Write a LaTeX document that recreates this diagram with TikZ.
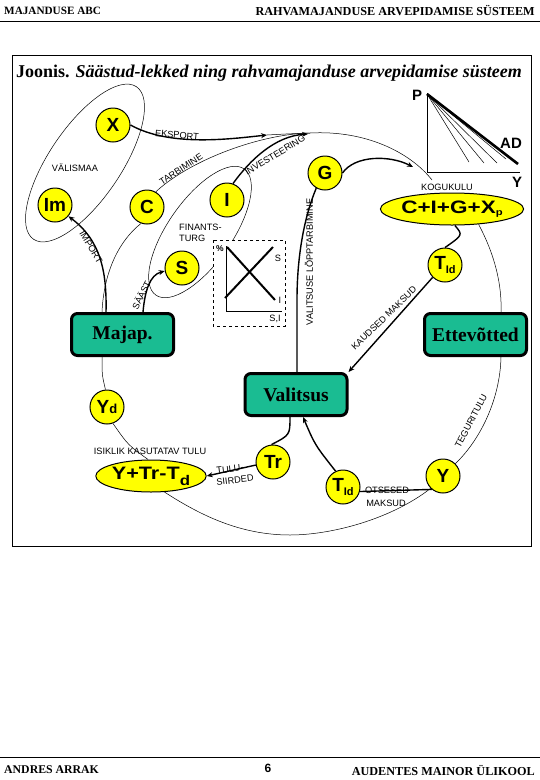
\documentclass[tikz,border=0pt]{standalone}
\usepackage{fontspec}
\setmainfont{Liberation Serif}
\setsansfont{Liberation Sans}
\usetikzlibrary{arrows.meta,shapes.geometric}
\definecolor{ylw}{RGB}{255,255,0}
\definecolor{grn}{RGB}{26,188,146}
\begin{document}
\begin{tikzpicture}[x=1pt,y=-1pt]
\tikzset{
  ycirc/.style={circle,draw,line width=1pt,fill=ylw,minimum size=34pt,inner sep=0pt,font=\sffamily\bfseries\fontsize{19}{19}\selectfont},
  yell/.style={ellipse,draw,line width=1pt,fill=ylw,inner sep=0pt,font=\sffamily\bfseries\fontsize{18}{18}\selectfont},
  gbox/.style={draw,line width=3pt,rounded corners=6pt,fill=grn,minimum width=102pt,minimum height=42pt,inner sep=0pt,font=\rmfamily\bfseries\fontsize{19.5}{19.5}\selectfont},
  lbl/.style={inner sep=0pt,font=\sffamily\fontsize{9.2}{9.2}\selectfont},
  thk/.style={line width=1.4pt},
  thn/.style={line width=0.5pt},
  arr/.style={-{Stealth[length=6pt,width=5pt]}},
  hdr/.style={inner sep=0pt,font=\rmfamily\bfseries\fontsize{11.2}{11.2}\selectfont},
  bigl/.style={inner sep=0pt,font=\sffamily\bfseries\fontsize{15}{15}\selectfont}
}
\useasboundingbox (0,0) rectangle (540,780);
\fill[white] (0,0) rectangle (540,780);
% header / footer
\node[hdr,anchor=west] (h1) at (4,11) {MAJANDUSE ABC};
\node[hdr,anchor=east,font=\rmfamily\bfseries\fontsize{12.2}{12.2}\selectfont] (h2) at (535,11) {RAHVAMAJANDUSE ARVEPIDAMISE SÜSTEEM};
\draw[line width=1pt] (0,21) -- (540,21);
\draw[line width=1pt] (0,757) -- (540,757);
\node[hdr,anchor=west,font=\rmfamily\bfseries\fontsize{11.8}{11.8}\selectfont] (f1) at (4,770) {ANDRES ARRAK};
\node[inner sep=0pt,font=\sffamily\bfseries\fontsize{12}{12}\selectfont] (f2) at (268,768) {6};
\node[hdr,anchor=east,font=\rmfamily\bfseries\fontsize{12.2}{12.2}\selectfont] (f3) at (535,770) {AUDENTES MAINOR ÜLIKOOL};
% frame
\draw[line width=1pt] (12,55) rectangle (531,546);
\node[anchor=west,inner sep=0pt,font=\rmfamily\bfseries\fontsize{18}{18}\selectfont] (title) at (16,73) {Joonis. \itshape Säästud-lekked ning rahvamajanduse arvepidamise süsteem};
% P-Y graph
\draw[thn,line width=0.7pt] (427,93) -- (427,172) -- (520,172);
\draw[line width=2.6pt] (427,94) -- (518,164);
\foreach \e in {(469,162),(484,163),(497,163),(506,159)} \draw[thn] (427,94) -- \e;
\node[bigl] (P) at (417,95) {P};
\node[bigl] (AD) at (511,143) {AD};
\node[bigl] (Yax) at (517,182) {Y};
% big ellipses
\draw[thn] [rotate around={56:(85,163)}] (85,163) ellipse [x radius=92, y radius=36];
\draw[thn] [rotate around={55:(200,232)}] (200,232) ellipse [x radius=77, y radius=32];
% finance box
\draw[thn,dashed,fill=white] (213,240) rectangle (285,326);
\draw[thn] (226,246) -- (226,311) -- (282,311);
\draw[line width=2pt] (227,247) -- (275,300);
\draw[line width=2pt] (225,298) -- (273,247);
\node[inner sep=0pt,font=\sffamily\bfseries\fontsize{8.5}{8.5}\selectfont] (pct) at (220,249) {\%};
\node[lbl] (lS) at (278,258) {S};
\node[lbl] (lI) at (280,300) {I};
\node[lbl] (lSI) at (275,319) {S,I};
% nodes
\node[ycirc] (X) at (113,125) {X};
\node[ycirc] (Im) at (55,205) {Im};
\node[ycirc] (C) at (147,207) {C};
\node[ycirc] (I) at (227,200) {I};
\node[ycirc] (G) at (325,173) {G};
\node[ycirc] (S) at (182,268) {S};
\node[ycirc] (T1) at (445,265) {T\raisebox{-4pt}{\fontsize{11}{11}\selectfont Id}};
\node[ycirc] (Yd) at (107,407) {Y{\fontsize{13}{13}\selectfont d}};
\node[ycirc] (Tr) at (273,462) {Tr};
\node[ycirc] (T2) at (343,487) {T\raisebox{-4pt}{\fontsize{11}{11}\selectfont Id}};
\node[ycirc] (Yb) at (443,476) {Y};
\node[yell,minimum width=122pt,minimum height=32pt] (cigx) at (452,209) {\scalebox{1.25}[1]{C+I+G+X\raisebox{-2pt}{\fontsize{9}{9}\selectfont p}}};
\node[yell,minimum width=98pt,minimum height=32pt] (ytr) at (151,476) {\scalebox{1.2}[1]{Y+Tr-T\raisebox{-6pt}{\fontsize{14}{14}\selectfont d}}};
\node[gbox] (maj) at (122.5,334.5) {Majap.};
\node[gbox] (ette) at (475.5,334.5) {Ettevõtted};
\node[gbox] (val) at (296,394.5) {Valitsus};
% coordinates
\coordinate (hub) at (310,133);
\coordinate (ekend) at (267,135);
\coordinate (arcend) at (432,180);
\coordinate (botm) at (290,535);
% connectors
\draw[thk,arr] (X.east) .. controls (170,147) and (230,139) .. (ekend);
\draw[thn] (ekend) .. controls (285,134) .. (hub) .. controls (365,130) and (410,152) .. (arcend);
\draw[thn] (C.60) .. controls (190,160) and (260,134) .. (hub);
\draw[thk,arr] (I.70) .. controls (250,160) and (275,136) .. (308,134);
\draw[thk,arr] (G.east) .. controls (355,155) and (390,155) .. (413,167);
\draw[thk] (G.240) .. controls (303,220) and (297,260) .. (297,300) -- (val.north -| 297,0);
\draw[thk,arr] (maj.north -| 106,0) .. controls (107,270) and (100,240) .. (Im.-40);
\draw[thn] (maj.north -| 102,0) .. controls (104,270) and (120,240) .. (C.-110);
\draw[thk,arr] (maj.north -| 143,0) .. controls (145,290) and (150,275) .. (S.190);
\draw[thk] (cigx.-80) .. controls (463,235) .. (T1.north);
\draw[thk,arr] (T1.225) -- (val.north east);
\draw[thk] (val.south -| 290,0) .. controls (290,435) .. (Tr.95);
\draw[thk,arr] (Tr.190) -- (ytr.east);
\draw[thk,arr] (T2.115) .. controls (315,445) .. (val.south -| 303,0);
\draw[thk] (Yb.230) -- (T2.-15);
\draw[thn] (cigx.-30) .. controls (495,255) and (502,285) .. (ette.north -| 501,0);
\draw[thn] (ette.south -| 501,0) .. controls (500,400) and (480,440) .. (Yb.45);
\draw[thn] (Yb.225) .. controls (390,520) and (330,535) .. (botm) .. controls (240,535) and (200,515) .. (ytr.-50);
\draw[thn] (ytr.100) .. controls (128,445) .. (Yd.-70);
\draw[thn] (Yd.95) .. controls (102,375) .. (maj.south -| 102,0);
% labels
\node[lbl,rotate=-5] (lek) at (177,135) {EKSPORT};
\node[lbl,rotate=33] (ltar) at (181,169) {TARBIMINE};
\node[lbl,rotate=31] (linv) at (275,155) {INVESTEERING};
\node[lbl] (lval) at (75,168) {VÄLISMAA};
\node[lbl,rotate=-59] (limp) at (91,247) {IMPORT};
\node[lbl,rotate=63] (lsa) at (141,295) {SÄÄST};
\node[lbl,rotate=44] (lkm) at (384,318) {KAUDSED MAKSUD};
\node[lbl,rotate=90] (lvl) at (309,262) {VALITSUSE LÕPPTARBIMINE};
\node[lbl,rotate=62] (lteg) at (471,421) {TEGURITULU};
\node[lbl] (lisk) at (150,451) {ISIKLIK KASUTATAV TULU};
\node[lbl,rotate=7] (ltulu) at (230,469) {TULU-};
\node[lbl,rotate=7] (lsiir) at (235,480) {SIIRDED};
\node[lbl] (lots) at (387,490) {OTSESED};
\node[lbl] (lmak) at (386,503) {MAKSUD};
\node[lbl] (lkog) at (447,187) {KOGUKULU};
\node[lbl,anchor=west,align=left] (lfin) at (179,233) {FINANTS-\\[2pt]TURG};
\end{tikzpicture}
\end{document}
